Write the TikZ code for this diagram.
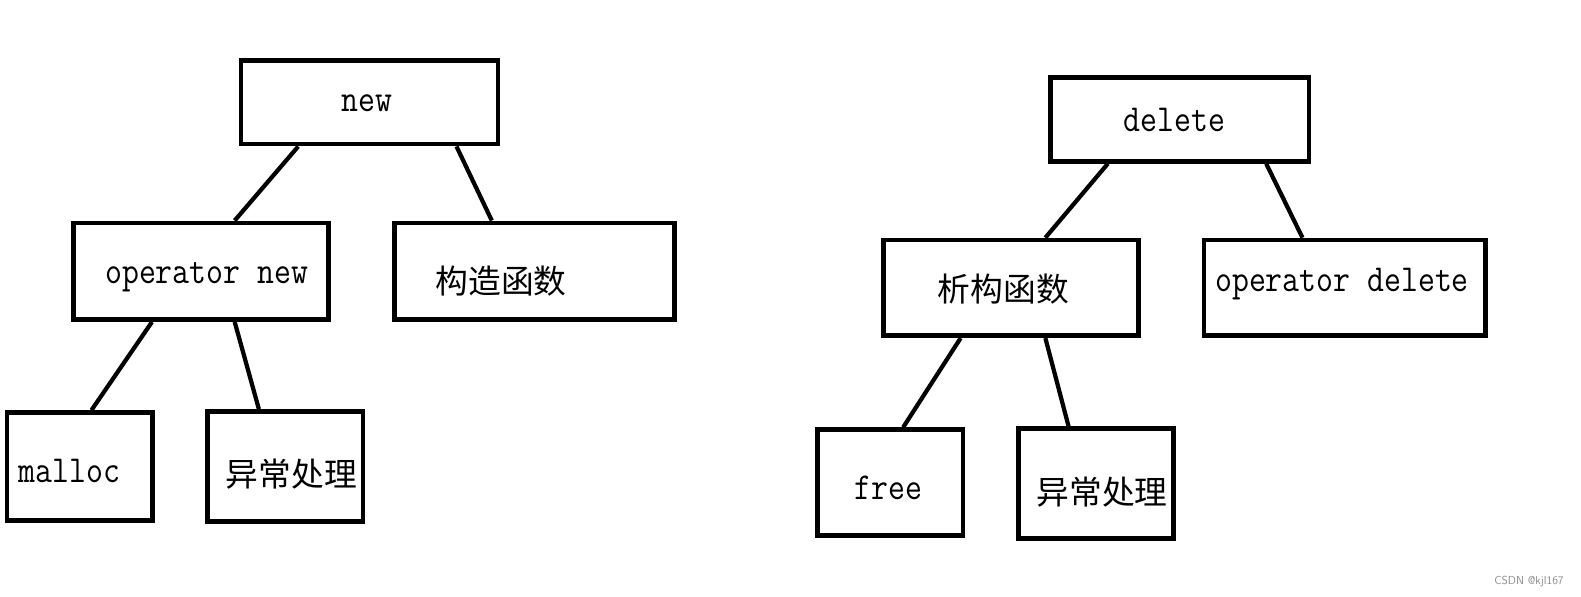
\documentclass[tikz,border=0pt]{standalone}
\usepackage{fontspec}
\usepackage{graphicx}
\newfontfamily\cjk{Noto Sans CJK SC}
\usetikzlibrary{calc}
\newcommand{\talltext}[1]{\scalebox{1.05}[1.22]{#1}}
\tikzset{
  box/.style={draw=black, line width=4.5pt, inner sep=0pt, minimum width=#1},
  lat/.style={inner sep=0pt, font=\fontsize{31}{31}\selectfont\ttfamily},
  han/.style={inner sep=0pt, font=\fontsize{32.5}{33}\selectfont\cjk},
  conn/.style={draw=black, line width=4.2pt},
  wm/.style={inner sep=0pt, text=black!45, font=\fontsize{11.5}{12}\selectfont\sffamily}
}
\begin{document}
\begin{tikzpicture}[x=1pt,y=-1pt]
\useasboundingbox[fill=white] (0,0) rectangle (1568,592);
% boxes
\node[box=255pt, minimum height=83pt] (new) at (366.5,101.5) {};
\node[box=253pt, minimum height=96pt] (opnew) at (199.5,269) {};
\node[box=278pt, minimum height=96pt] (gouzao) at (530,269) {};
\node[box=144pt, minimum height=107pt] (malloc) at (79,462.5) {};
\node[box=154pt, minimum height=109pt] (yc1) at (283,462.5) {};
\node[box=256pt, minimum height=83pt] (delete) at (1170,118.5) {};
\node[box=253pt, minimum height=95pt] (xigou) at (1002.5,285.5) {};
\node[box=279pt, minimum height=95pt] (opdel) at (1333.5,285.5) {};
\node[box=144pt, minimum height=105pt] (free) at (883,478.5) {};
\node[box=154pt, minimum height=109pt] (yc2) at (1087,479.5) {};
% texts
\node[lat] (tnew) at (364,102) {\talltext{new}};
\node[lat] (topnew) at (205,275) {\talltext{operator new}};
\node[han] (tgouzao) at (497,279) {构造函数};
\node[lat] (tmalloc) at (69,467) {\talltext{malloc}};
\node[han] (tyc1) at (289,470) {异常处理};
\node[lat] (tdelete) at (1165,119) {\talltext{delete}};
\node[han] (txigou) at (995,287) {析构函数};
\node[lat] (topdel) at (1331,282) {\talltext{operator delete}};
\node[lat] (tfree) at (881,484) {\talltext{free}};
\node[han] (tyc2) at (1093,488) {异常处理};
\node[wm, anchor=east] (wmark) at (1551,577) {CSDN @kjl167};
% connectors
\draw[conn] ($(new.south west)+(59,0)$) -- ($(opnew.north west)+(162,0)$);
\draw[conn] ($(new.south west)+(216,0)$) -- ($(gouzao.north west)+(99,0)$);
\draw[conn] ($(opnew.south west)+(80,0)$) -- ($(malloc.north west)+(86,0)$);
\draw[conn] ($(opnew.south west)+(162,0)$) -- ($(yc1.north west)+(53,0)$);
\draw[conn] ($(delete.south west)+(59,0)$) -- ($(xigou.north west)+(163,0)$);
\draw[conn] ($(delete.south west)+(216,0)$) -- ($(opdel.north west)+(100,0)$);
\draw[conn] ($(xigou.south west)+(79,0)$) -- ($(free.north west)+(87,0)$);
\draw[conn] ($(xigou.south west)+(163,0)$) -- ($(yc2.north west)+(52,0)$);
\end{tikzpicture}
\end{document}
